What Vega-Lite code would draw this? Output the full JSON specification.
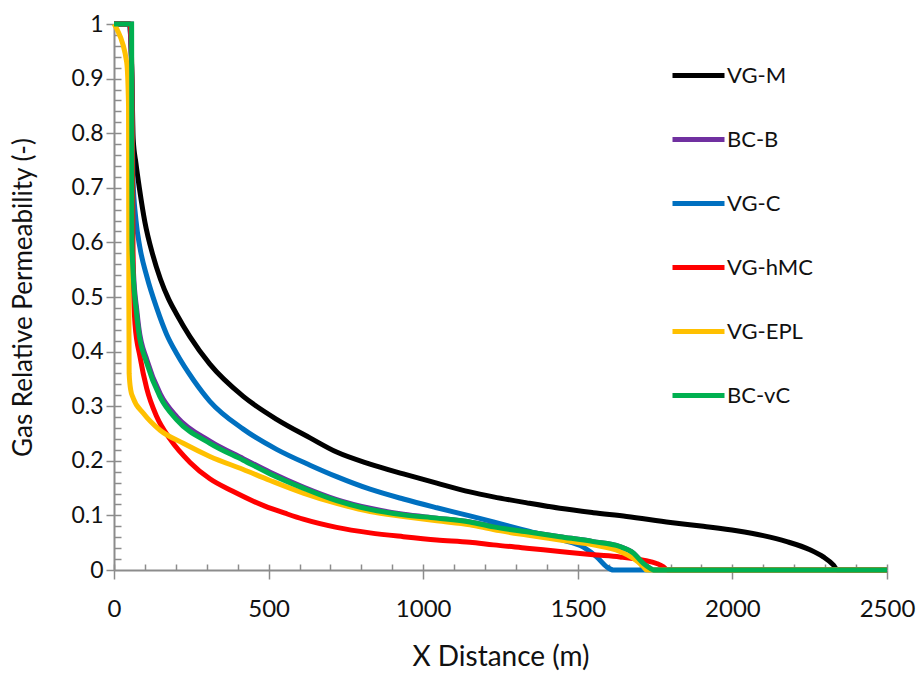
{
  "$schema": "https://vega.github.io/schema/vega-lite/v6.json",
  "width": 773,
  "height": 546,
  "autosize": "none",
  "padding": {"left": 114, "top": 24, "right": 35, "bottom": 107},
  "background": "white",
  "config": {
    "view": {"stroke": null},
    "font": "Lato",
    "axis": {
      "grid": false,
      "domainColor": "#8c8c8c",
      "domainWidth": 2,
      "tickColor": "#8c8c8c",
      "tickWidth": 1.5,
      "labelColor": "#111111",
      "titleColor": "#111111",
      "labelFont": "Lato",
      "titleFont": "Lato",
      "titleFontWeight": "normal"
    }
  },
  "data": {
    "values": [
      {"s": "VG-M", "x": 0, "y": 1}, {"s": "VG-M", "x": 50, "y": 1}, {"s": "VG-M", "x": 58, "y": 0.9}, {"s": "VG-M", "x": 62, "y": 0.79},
      {"s": "VG-M", "x": 71, "y": 0.745}, {"s": "VG-M", "x": 82, "y": 0.7}, {"s": "VG-M", "x": 100, "y": 0.637}, {"s": "VG-M", "x": 125, "y": 0.578},
      {"s": "VG-M", "x": 150, "y": 0.533}, {"s": "VG-M", "x": 176, "y": 0.497}, {"s": "VG-M", "x": 203, "y": 0.468}, {"s": "VG-M", "x": 246, "y": 0.427},
      {"s": "VG-M", "x": 310, "y": 0.377}, {"s": "VG-M", "x": 418, "y": 0.318},
      {"s": "VG-M", "x": 526, "y": 0.276}, {"s": "VG-M", "x": 634, "y": 0.242}, {"s": "VG-M", "x": 720, "y": 0.216}, {"s": "VG-M", "x": 828, "y": 0.194},
      {"s": "VG-M", "x": 936, "y": 0.176}, {"s": "VG-M", "x": 1044, "y": 0.159}, {"s": "VG-M", "x": 1151, "y": 0.143}, {"s": "VG-M", "x": 1227, "y": 0.134},
      {"s": "VG-M", "x": 1335, "y": 0.123}, {"s": "VG-M", "x": 1442, "y": 0.113}, {"s": "VG-M", "x": 1550, "y": 0.105}, {"s": "VG-M", "x": 1658, "y": 0.098},
      {"s": "VG-M", "x": 1800, "y": 0.087}, {"s": "VG-M", "x": 1906, "y": 0.08}, {"s": "VG-M", "x": 2014, "y": 0.072}, {"s": "VG-M", "x": 2100, "y": 0.063},
      {"s": "VG-M", "x": 2176, "y": 0.052}, {"s": "VG-M", "x": 2251, "y": 0.037}, {"s": "VG-M", "x": 2294, "y": 0.024}, {"s": "VG-M", "x": 2327, "y": 0.009},
      {"s": "VG-M", "x": 2340, "y": 0}, {"s": "VG-M", "x": 2500, "y": 0},

      {"s": "BC-B", "x": 0, "y": 1}, {"s": "BC-B", "x": 56, "y": 1}, {"s": "BC-B", "x": 58, "y": 0.62}, {"s": "BC-B", "x": 63, "y": 0.545},
      {"s": "BC-B", "x": 74, "y": 0.475}, {"s": "BC-B", "x": 80, "y": 0.445}, {"s": "BC-B", "x": 107, "y": 0.384}, {"s": "BC-B", "x": 150, "y": 0.322},
      {"s": "BC-B", "x": 204, "y": 0.28}, {"s": "BC-B", "x": 310, "y": 0.236}, {"s": "BC-B", "x": 418, "y": 0.204}, {"s": "BC-B", "x": 505, "y": 0.179},
      {"s": "BC-B", "x": 612, "y": 0.152}, {"s": "BC-B", "x": 720, "y": 0.129}, {"s": "BC-B", "x": 828, "y": 0.113}, {"s": "BC-B", "x": 936, "y": 0.102},
      {"s": "BC-B", "x": 1044, "y": 0.095}, {"s": "BC-B", "x": 1151, "y": 0.088}, {"s": "BC-B", "x": 1227, "y": 0.08}, {"s": "BC-B", "x": 1335, "y": 0.07},
      {"s": "BC-B", "x": 1442, "y": 0.061}, {"s": "BC-B", "x": 1550, "y": 0.052}, {"s": "BC-B", "x": 1636, "y": 0.043}, {"s": "BC-B", "x": 1680, "y": 0.031},
      {"s": "BC-B", "x": 1712, "y": 0.012}, {"s": "BC-B", "x": 1734, "y": 0.003}, {"s": "BC-B", "x": 1745, "y": 0}, {"s": "BC-B", "x": 2500, "y": 0},

      {"s": "VG-C", "x": 0, "y": 1}, {"s": "VG-C", "x": 50, "y": 1}, {"s": "VG-C", "x": 58, "y": 0.9}, {"s": "VG-C", "x": 61, "y": 0.72},
      {"s": "VG-C", "x": 71, "y": 0.641}, {"s": "VG-C", "x": 84, "y": 0.59}, {"s": "VG-C", "x": 106, "y": 0.538}, {"s": "VG-C", "x": 138, "y": 0.48},
      {"s": "VG-C", "x": 170, "y": 0.432}, {"s": "VG-C", "x": 203, "y": 0.396}, {"s": "VG-C", "x": 257, "y": 0.348}, {"s": "VG-C", "x": 310, "y": 0.309},
      {"s": "VG-C", "x": 418, "y": 0.258}, {"s": "VG-C", "x": 526, "y": 0.221}, {"s": "VG-C", "x": 634, "y": 0.192}, {"s": "VG-C", "x": 720, "y": 0.171},
      {"s": "VG-C", "x": 828, "y": 0.148}, {"s": "VG-C", "x": 936, "y": 0.13}, {"s": "VG-C", "x": 1044, "y": 0.114}, {"s": "VG-C", "x": 1151, "y": 0.099},
      {"s": "VG-C", "x": 1227, "y": 0.088}, {"s": "VG-C", "x": 1335, "y": 0.072}, {"s": "VG-C", "x": 1442, "y": 0.056}, {"s": "VG-C", "x": 1518, "y": 0.042},
      {"s": "VG-C", "x": 1561, "y": 0.024}, {"s": "VG-C", "x": 1593, "y": 0.006}, {"s": "VG-C", "x": 1615, "y": 0}, {"s": "VG-C", "x": 2500, "y": 0},

      {"s": "VG-hMC", "x": 0, "y": 1}, {"s": "VG-hMC", "x": 52, "y": 1}, {"s": "VG-hMC", "x": 58, "y": 0.9}, {"s": "VG-hMC", "x": 62, "y": 0.55},
      {"s": "VG-hMC", "x": 68, "y": 0.45}, {"s": "VG-hMC", "x": 84, "y": 0.391}, {"s": "VG-hMC", "x": 106, "y": 0.332}, {"s": "VG-hMC", "x": 138, "y": 0.281},
      {"s": "VG-hMC", "x": 181, "y": 0.24}, {"s": "VG-hMC", "x": 246, "y": 0.197}, {"s": "VG-hMC", "x": 310, "y": 0.167}, {"s": "VG-hMC", "x": 381, "y": 0.145},
      {"s": "VG-hMC", "x": 488, "y": 0.117}, {"s": "VG-hMC", "x": 553, "y": 0.104}, {"s": "VG-hMC", "x": 612, "y": 0.093}, {"s": "VG-hMC", "x": 720, "y": 0.078},
      {"s": "VG-hMC", "x": 828, "y": 0.068}, {"s": "VG-hMC", "x": 936, "y": 0.061}, {"s": "VG-hMC", "x": 1044, "y": 0.055}, {"s": "VG-hMC", "x": 1151, "y": 0.051},
      {"s": "VG-hMC", "x": 1227, "y": 0.046}, {"s": "VG-hMC", "x": 1335, "y": 0.04}, {"s": "VG-hMC", "x": 1442, "y": 0.034}, {"s": "VG-hMC", "x": 1550, "y": 0.028},
      {"s": "VG-hMC", "x": 1636, "y": 0.024}, {"s": "VG-hMC", "x": 1712, "y": 0.018}, {"s": "VG-hMC", "x": 1755, "y": 0.012}, {"s": "VG-hMC", "x": 1777, "y": 0.006},
      {"s": "VG-hMC", "x": 1790, "y": 0}, {"s": "VG-hMC", "x": 2500, "y": 0},

      {"s": "VG-EPL", "x": 0, "y": 1}, {"s": "VG-EPL", "x": 10, "y": 0.99}, {"s": "VG-EPL", "x": 41, "y": 0.93}, {"s": "VG-EPL", "x": 47, "y": 0.85},
      {"s": "VG-EPL", "x": 48, "y": 0.5}, {"s": "VG-EPL", "x": 49, "y": 0.36}, {"s": "VG-EPL", "x": 54, "y": 0.33}, {"s": "VG-EPL", "x": 62, "y": 0.315},
      {"s": "VG-EPL", "x": 95, "y": 0.287}, {"s": "VG-EPL", "x": 149, "y": 0.256}, {"s": "VG-EPL", "x": 224, "y": 0.232}, {"s": "VG-EPL", "x": 310, "y": 0.208},
      {"s": "VG-EPL", "x": 418, "y": 0.184}, {"s": "VG-EPL", "x": 505, "y": 0.164}, {"s": "VG-EPL", "x": 612, "y": 0.141}, {"s": "VG-EPL", "x": 720, "y": 0.122},
      {"s": "VG-EPL", "x": 828, "y": 0.107}, {"s": "VG-EPL", "x": 936, "y": 0.098}, {"s": "VG-EPL", "x": 1044, "y": 0.09}, {"s": "VG-EPL", "x": 1151, "y": 0.083},
      {"s": "VG-EPL", "x": 1227, "y": 0.074}, {"s": "VG-EPL", "x": 1335, "y": 0.064}, {"s": "VG-EPL", "x": 1442, "y": 0.055}, {"s": "VG-EPL", "x": 1550, "y": 0.046},
      {"s": "VG-EPL", "x": 1636, "y": 0.034}, {"s": "VG-EPL", "x": 1680, "y": 0.021}, {"s": "VG-EPL", "x": 1712, "y": 0.006}, {"s": "VG-EPL", "x": 1722, "y": 0},
      {"s": "VG-EPL", "x": 2500, "y": 0},

      {"s": "BC-vC", "x": 0, "y": 1}, {"s": "BC-vC", "x": 57, "y": 1}, {"s": "BC-vC", "x": 58, "y": 0.6}, {"s": "BC-vC", "x": 62, "y": 0.543},
      {"s": "BC-vC", "x": 73, "y": 0.47}, {"s": "BC-vC", "x": 79, "y": 0.44}, {"s": "BC-vC", "x": 106, "y": 0.379}, {"s": "BC-vC", "x": 149, "y": 0.317},
      {"s": "BC-vC", "x": 203, "y": 0.275}, {"s": "BC-vC", "x": 310, "y": 0.232}, {"s": "BC-vC", "x": 418, "y": 0.201}, {"s": "BC-vC", "x": 505, "y": 0.176},
      {"s": "BC-vC", "x": 612, "y": 0.15}, {"s": "BC-vC", "x": 720, "y": 0.127}, {"s": "BC-vC", "x": 828, "y": 0.111}, {"s": "BC-vC", "x": 936, "y": 0.101},
      {"s": "BC-vC", "x": 1044, "y": 0.095}, {"s": "BC-vC", "x": 1151, "y": 0.088}, {"s": "BC-vC", "x": 1227, "y": 0.079}, {"s": "BC-vC", "x": 1335, "y": 0.07},
      {"s": "BC-vC", "x": 1442, "y": 0.061}, {"s": "BC-vC", "x": 1550, "y": 0.052}, {"s": "BC-vC", "x": 1636, "y": 0.043}, {"s": "BC-vC", "x": 1680, "y": 0.031},
      {"s": "BC-vC", "x": 1712, "y": 0.012}, {"s": "BC-vC", "x": 1734, "y": 0.003}, {"s": "BC-vC", "x": 1745, "y": 0}, {"s": "BC-vC", "x": 2500, "y": 0}
    ]
  },
  "layer": [
    {
      "mark": {"type": "line", "strokeWidth": 5, "interpolate": "monotone", "clip": false},
      "encoding": {
        "x": {
          "field": "x", "type": "quantitative",
          "scale": {"domain": [0, 2500], "nice": false},
          "axis": {"title": "X Distance (m)", "values": [0, 500, 1000, 1500, 2000, 2500], "format": "d", "tickSize": 9, "labelFontSize": 24, "labelPadding": 18, "titleFontSize": 28, "titlePadding": 22, "labelFlush": false}
        },
        "y": {
          "field": "y", "type": "quantitative",
          "scale": {"domain": [0, 1], "nice": false},
          "axis": {"title": "Gas Relative Permeability (-)", "values": [0, 0.1, 0.2, 0.3, 0.4, 0.5, 0.6, 0.7, 0.8, 0.9, 1], "format": ".1~f", "tickSize": 8, "labelFontSize": 23, "labelPadding": 3, "titleFontSize": 26, "titlePadding": 34, "labelFlush": false}
        },
        "color": {
          "field": "s", "type": "nominal",
          "scale": {"domain": ["VG-M", "BC-B", "VG-C", "VG-hMC", "VG-EPL", "BC-vC"], "range": ["#000000", "#7030A0", "#0070C0", "#FF0000", "#FFC000", "#00B050"]},
          "legend": {"title": null, "orient": "none", "legendX": 556, "legendY": 23, "padding": 0, "symbolType": "stroke", "symbolSize": 2704, "symbolStrokeWidth": 5, "rowPadding": 24, "labelFontSize": 22, "labelOffset": 0, "labelColor": "#111111", "labelFont": "Lato"}
        }
      }
    },
    {
      "mark": {"type": "point", "opacity": 0},
      "encoding": {
        "x": {
          "field": "x", "type": "quantitative",
          "axis": {"orient": "bottom", "title": null, "labels": false, "domain": false, "tickSize": -6, "values": [100, 200, 300, 400, 600, 700, 800, 900, 1100, 1200, 1300, 1400, 1600, 1700, 1800, 1900, 2100, 2200, 2300, 2400, 0, 500, 1000, 1500, 2000, 2500]}
        },
        "y": {
          "field": "y", "type": "quantitative",
          "axis": {"orient": "left", "title": null, "labels": false, "domain": false, "tickSize": -7, "values": [0.02, 0.04, 0.06, 0.08, 0.12, 0.14, 0.16, 0.18, 0.22, 0.24, 0.26, 0.28, 0.32, 0.34, 0.36, 0.38, 0.42, 0.44, 0.46, 0.48, 0.52, 0.54, 0.56, 0.58, 0.62, 0.64, 0.66, 0.68, 0.72, 0.74, 0.76, 0.78, 0.82, 0.84, 0.86, 0.88, 0.92, 0.94, 0.96, 0.98, 0.1, 0.2, 0.3, 0.4, 0.5, 0.6, 0.7, 0.8, 0.9, 1]}
        }
      }
    }
  ],
  "resolve": {"axis": {"x": "independent", "y": "independent"}}
}
